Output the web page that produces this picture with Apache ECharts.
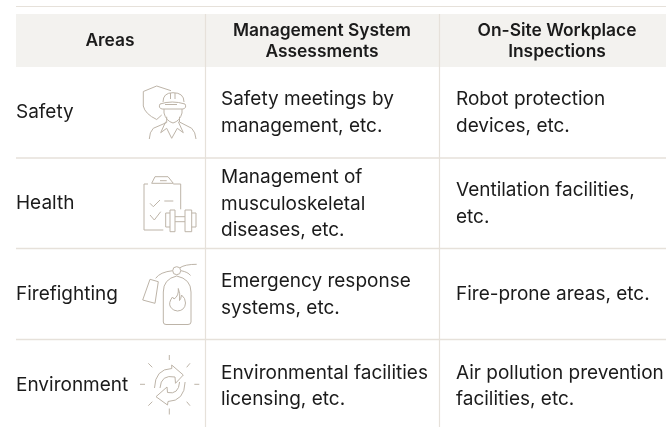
<!DOCTYPE html>
<html><head><meta charset="utf-8">
<style>html,body{margin:0;padding:0;background:#fff}#c{width:666px;height:427px}</style>
<script src="https://cdn.jsdelivr.net/npm/echarts@6/dist/echarts.min.js"></script>
</head><body><div id="c"></div>
<script>
const headers = [["Areas"], ["Management System","Assessments"], ["On-Site Workplace","Inspections"]];
const areas = ["Safety","Health","Firefighting","Environment"];
const assessments = [["Safety meetings by","management, etc."],["Management of","musculoskeletal","diseases, etc."],["Emergency response","systems, etc."],["Environmental facilities","licensing, etc."]];
const inspections = [["Robot protection","devices, etc."],["Ventilation facilities,","etc."],["Fire-prone areas, etc."],["Air pollution prevention","facilities, etc."]];

const FONT = 'Inter';
const INK = '#1b1b1b', LINE = '#e6e1da', ICON = '#bdb4a8', HEAD = '#f3f2ef';
const g = [];
function line(x1,y1,x2,y2,w,c){g.push({type:'line',shape:{x1,y1,x2,y2},style:{stroke:c||LINE,lineWidth:w||1.2},silent:true});}
function textBlock(lines,x,cy,align,weight,size,lh){
  lines.forEach((t,i)=>{g.push({type:'text',x,y:cy+(i-(lines.length-1)/2)*lh,style:{text:t,fill:INK,font:`${weight} ${size}px ${FONT}`,textAlign:align,textVerticalAlign:'middle'}});});
}
g.push({type:'rect',shape:{x:16,y:14,width:650,height:53},style:{fill:HEAD}});
line(16,6.5,666,6.5,1);
[158,248.5,339.5].forEach(y=>line(16,y,666,y,1.3));
line(205.5,14,205.5,427);line(439.5,14,439.5,427);
textBlock(headers[0],110,41,'center',600,17.4,21);
textBlock(headers[1],322,41.5,'center',600,17.4,21);
textBlock(headers[2],557,41.5,'center',600,17.4,21);
const areaY=[112.5,203,294,385], asY=[113,204,295,386], inY=[113,204,294,386];
const asH=[27,26.5,27,26], inH=[27,27,27,26];
for(let i=0;i<4;i++){
  textBlock([areas[i]],16,areaY[i],'left',400,19,26);
  textBlock(assessments[i],221,asY[i],'left',400,19,asH[i]);
  textBlock(inspections[i],456,inY[i],'left',400,19,inH[i]);
}
function addPath(d){
  const toks=d.match(/[MLQZ]|-?[\d.]+/g);let i=0,pts=null,cur=null,start=null;
  const st={stroke:ICON,fill:'none',lineWidth:1};
  const flush=()=>{if(pts&&pts.length>1)g.push({type:'polyline',shape:{points:pts},style:st,silent:true});pts=null;};
  const num=()=>parseFloat(toks[i++]);
  while(i<toks.length){
    const c=toks[i++];
    if(c==='M'){flush();cur=[num(),num()];start=cur;pts=[cur];}
    else if(c==='L'){cur=[num(),num()];if(!pts)pts=[];pts.push(cur);}
    else if(c==='Z'){if(!pts)pts=[cur];pts.push(start);cur=start;flush();}
    else if(c==='Q'){const prev=cur;flush();const cx=num(),cy=num(),x=num(),y=num();
      g.push({type:'bezierCurve',shape:{x1:prev[0],y1:prev[1],cpx1:cx,cpy1:cy,x2:x,y2:y},style:st,silent:true});
      cur=[x,y];pts=[cur];}
  }
  flush();
}
const paths=[
 // shield
 'M161.7 115 L156.7 119.5 Q145 114 143.3 106 L143.3 91.5 L156.7 86 L171 90.7',
 // helmet
 'M163 102 Q163 92.7 173 92.7 Q184 92.7 184 102 M170.5 93 L170.5 99 M175 93 L175 99 M160 104 Q172 100 185 104 Q187 108 183 109 L162 109 Q158 108 160 104 M165 104.5 L177 104.5',
 // face, shoulders, collar
 'M164 109 L164 113 Q166 121 173 123 Q180 121 182 113 L182 109 M166.7 116.7 L166.7 122.5 L153.3 128.3 Q149.5 132 149.3 139 M179.5 116.7 L179.5 122 L191.7 128.3 Q195.5 132 196 139 M165.7 121.7 L160.7 132.7 L166.7 128.3 L171.7 138.3 L177.3 128.3 L183.3 132.7 L178.3 121.7',
 // clipboard
 'M148 184 L144 184 L144 230 L163.3 230 M151.7 183.3 L155 176.7 L168 176.7 L173.3 183.3 Z M160 180.7 L166.7 180.7 M173.3 184 L180.7 184 L180.7 209.3 M150 203.3 L153.3 206.7 L160 200 M164.3 201 L173.3 201 M150 215 L154.3 220 L160.7 211.7',
 // dumbbell
 'M170 213 L165.7 213 L165.7 227 L170 227 M170 210 L175 210 L175 231.7 L170 231.7 Z M175 216.7 L185 216.7 M175 221.7 L185 221.7 M185 210 L191.7 210 L191.7 231.7 L185 231.7 Z M191.7 213 L196 213 L196 227 L191.7 227',
 // extinguisher
 'M180 267.7 Q185 264.3 196.7 264.3 M172.7 270.7 Q160 272 155.7 278.3 M181 270.7 Q188 272 190.5 275.5 M150 279.3 L158.3 281.7 L155 303.3 L142.7 300 Z M163.3 322 L163.3 292 Q163.3 279 176.7 276 Q191 279 191 292 L191 322 Q191 324.5 188 324.5 L166 324.5 Q163.3 324.5 163.3 322 M178.3 288.5 Q179 296 174 299 L172.5 297 Q168 303 170.5 307 Q173 311 177.5 311 Q185 310.5 185.5 303 Q185.5 298 181.5 295 Q181 299 179.5 300.5 Q180.5 293 178.3 288.5',
 // arrows
 'M154.5 388 Q155 369 171.8 368.5 L171.7 365 L183.3 375 L175.5 383.3 L175 377 Q161 374 160 388 M185.1 382 Q184.6 401 168 401.5 L167.5 405 L156 396.7 L167 387 L167.5 392.5 Q178.6 395 179.6 382',
 // rays
 'M169.3 355 L169.3 360 M169.3 408.5 L169.3 414.5 M140 384.3 L145 384.3 M194.3 384.3 L199.3 384.3 M148.3 363.3 L152.3 367.3 M190 363.3 L186.7 367.3 M148.3 405.7 L152.3 401.7 M190 405.7 L186.7 401.7'
];
paths.forEach(addPath);
g.push({type:'circle',shape:{cx:176.7,cy:270.7,r:4},style:{stroke:ICON,fill:'#fff',lineWidth:1},silent:true});
const chart=echarts.init(document.getElementById('c'),null,{renderer:'canvas'});
chart.setOption({animation:false,backgroundColor:'#fff',graphic:{elements:g}});
</script></body></html>
